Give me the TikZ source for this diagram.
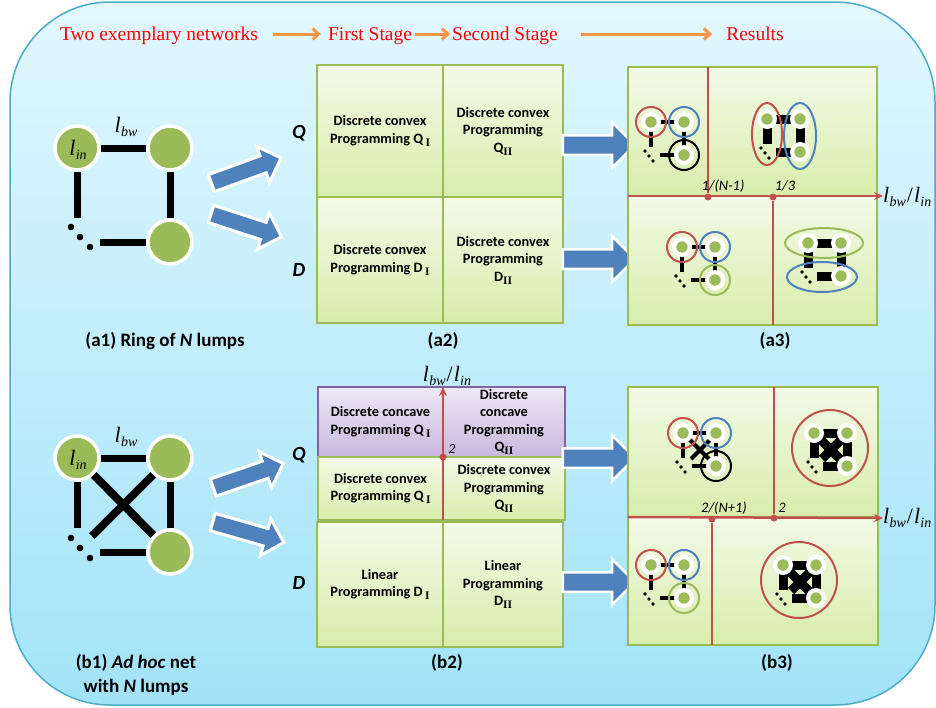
\documentclass[tikz,border=0pt]{standalone}
\usepackage{fontspec}
\usetikzlibrary{shapes.arrows,arrows.meta}
\newfontfamily\calib{Carlito}
\newfontfamily\camb{Liberation Serif}
\definecolor{bgtop}{HTML}{E1F7FD}
\definecolor{bgbot}{HTML}{A2E3F8}
\definecolor{bordc}{HTML}{4BACC6}
\definecolor{lumpgreen}{HTML}{9BBB59}
\definecolor{arrowblue}{HTML}{4F81BD}
\definecolor{axisred}{HTML}{C0504D}
\definecolor{orangec}{HTML}{F79646}
\definecolor{purplec}{HTML}{8064A2}
\definecolor{celltop}{HTML}{F3FAE8}
\definecolor{cellbot}{HTML}{D7EDAB}
\definecolor{ptop}{HTML}{EEE8F5}
\definecolor{pbot}{HTML}{C8B7DD}
\newcommand\cellfont{\calib\bfseries\fontsize{14.3}{17.5}\selectfont}
\newcommand\myI{\,\raisebox{-3pt}{\camb\bfseries\fontsize{11.5}{11.5}\selectfont I}}
\newcommand\myII{\raisebox{-3pt}{\camb\bfseries\fontsize{11.5}{11.5}\selectfont II}}
% italic l with subscript, Times-like
\newcommand\lsub[1]{{\camb\itshape\fontsize{22}{22}\selectfont l\kern0.3pt\raisebox{-4pt}{\fontsize{14}{14}\selectfont #1}}}
\newcommand\ratio{\lsub{bw}{\camb\fontsize{22}{22}\selectfont\kern1pt/\kern1pt}\lsub{in}}
% mini network: x, y (top-left lump), edge width, X flag
\newcommand\mnet[4]{%
\begin{scope}[shift={(#1,#2)}]
\draw[line width=#3pt] (0,0) -- (33,0) -- (33,33) (0,0) -- (0,25) (9,33) -- (33,33);
\ifnum#4=1 \draw[line width=#3pt] (6,6) -- (28,28) (28,6) -- (8,26);\fi
\fill (-6,29) circle (1.8) (-2,34) circle (1.8) (2,39) circle (1.8);
\foreach \q in {(0,0),(33,0),(33,33)}{\fill[white] \q circle (10); \fill[lumpgreen] \q circle (5.7);}
\end{scope}}
\begin{document}
\begin{tikzpicture}[x=1pt,y=-1pt,
  lump/.style={circle, fill=lumpgreen, draw=white, line width=3.5pt, minimum size=44pt, inner sep=0pt},
  ledge/.style={line width=7pt, black},
  barrow/.style={single arrow, fill=arrowblue, draw=white, line width=3pt, inner xsep=0pt, inner ysep=7.5pt, single arrow head extend=10pt, minimum height=74pt},
  harrow/.style={single arrow, fill=arrowblue, draw=white, line width=2.5pt, inner xsep=0pt, inner ysep=8.5pt, single arrow head extend=13pt, minimum height=72pt},
  toplab/.style={text=red, font=\camb\fontsize{19.5}{19.5}\selectfont, inner sep=0pt, text height=16pt, text depth=4pt},
  oarrow/.style={draw=orangec, line width=3pt, -{Straight Barb[length=6pt,width=11pt]}},
  cellg/.style={draw=lumpgreen, line width=1.2pt, top color=celltop, bottom color=cellbot, inner sep=0pt, align=center, font=\cellfont},
  cellp/.style={draw=purplec, line width=1.2pt, top color=ptop, bottom color=pbot, inner sep=0pt, align=center, font=\cellfont},
  sect/.style={font=\calib\bfseries\fontsize{19}{24}\selectfont, align=center, inner sep=0pt},
  qd/.style={font=\calib\bfseries\itshape\fontsize{20}{20}\selectfont, inner sep=0pt},
  axis/.style={draw=axisred, line width=2.5pt, -{Stealth[length=9pt,width=8pt]}},
  divl/.style={draw=axisred, line width=1.3pt},
  tdot/.style={circle, fill=axisred, inner sep=0pt, minimum size=7pt},
  tick/.style={font=\calib\itshape\fontsize{14.5}{14.5}\selectfont, inner sep=0pt},
  axlab/.style={inner sep=0pt},
  enc/.style={line width=2pt},
  math/.style={inner sep=0pt}
]
\fill[white] (0,0) rectangle (936,707);
\useasboundingbox (0,0) rectangle (936,707);
\path[draw=bordc, line width=1.5pt, top color=bgtop, bottom color=bgbot, rounded corners=100pt] (10,2) rectangle (935,705);

% ---- top titles
\node[toplab] (t1) at (159,34) {Two exemplary networks};
\node[toplab] (t2) at (370,34) {First Stage};
\node[toplab] (t3) at (505,34) {Second Stage};
\node[toplab] (t4) at (755,34) {Results};
\draw[oarrow, shorten <=15pt, shorten >=7pt] (t1) -- (t2);
\draw[oarrow, shorten <=3pt, shorten >=2pt] (t2) -- (t3);
\draw[oarrow, shorten <=23pt, shorten >=14pt] (t3) -- (t4);

% ---- (a1) ring network
\node[lump] (a1n1) at (77,148) {};
\node[lump] (a1n2) at (170,148) {};
\node[lump] (a1n3) at (170,242) {};
\node[math] (a1lin) at (78,150) {\lsub{in}};
\node[math] (a1lbw) at (126,127) {\lsub{bw}};
\coordinate (a1c1) at (77,218);
\coordinate (a1c2) at (100,242);
\draw[ledge] (a1n1) -- (a1n2);
\draw[ledge] (a1n2) -- (a1n3);
\draw[ledge] (a1n1) -- (a1c1);
\draw[ledge] (a1c2) -- (a1n3);
\fill (71,227) circle (3.3) (80,237) circle (3.3) (90,247) circle (3.3);
\node[barrow, rotate=20] (a1ar1) at (242,172) {};
\node[barrow, rotate=-18] (a1ar2) at (242,224) {};
\node[sect] (a1lab) at (165,341) {(a1) Ring of \textit{N} lumps};

% ---- (b1) ad hoc network
\node[lump] (b1n1) at (77,458) {};
\node[lump] (b1n2) at (170,458) {};
\node[lump] (b1n3) at (170,552) {};
\node[math] (b1lin) at (78,460) {\lsub{in}};
\node[math] (b1lbw) at (126,437) {\lsub{bw}};
\coordinate (b1c1) at (77,528);
\coordinate (b1c2) at (100,552);
\coordinate (b1c3) at (92,536);
\draw[ledge] (b1n1) -- (b1n2);
\draw[ledge] (b1n2) -- (b1n3);
\draw[ledge] (b1n1) -- (b1c1);
\draw[ledge] (b1c2) -- (b1n3);
\draw[ledge, line width=8pt] (b1n1) -- (b1n3);
\draw[ledge, line width=8pt] (b1n2) -- (b1c3);
\fill (71,538) circle (3.3) (80,548) circle (3.3) (90,558) circle (3.3);
\node[barrow, rotate=19] (b1ar1) at (244,477) {};
\node[barrow, rotate=-16] (b1ar2) at (244,531) {};
\node[sect] (b1lab) at (136,675) {(b1) \textit{Ad hoc} net\\with \textit{N} lumps};

% ---- Q / D labels
\node[qd] (qa) at (299,133) {Q};
\node[qd] (da) at (299,270) {D};
\node[qd] (qb) at (299,455) {Q};
\node[qd] (db) at (299,583) {D};

% ---- (a2) grid
\node[cellg, minimum width=126pt, minimum height=132pt] (a2q1) at (380,131) {Discrete convex\\Programming Q\myI};
\node[cellg, minimum width=120pt, minimum height=132pt] (a2q2) at (503,131) {Discrete convex\\Programming\\Q\myII};
\node[cellg, minimum width=126pt, minimum height=126pt] (a2d1) at (380,260) {Discrete convex\\Programming D\myI};
\node[cellg, minimum width=120pt, minimum height=126pt] (a2d2) at (503,260) {Discrete convex\\Programming\\D\myII};
\node[sect] (a2lab) at (443,341) {(a2)};

% ---- (b2) grid
\node[cellp, minimum width=125pt, minimum height=70pt] (b2p1) at (380.5,422) {Discrete concave\\Programming Q\myI};
\node[cellp, minimum width=122pt, minimum height=70pt] (b2p2) at (504,422) {Discrete\\concave\\Programming\\Q\myII};
\node[cellg, minimum width=125pt, minimum height=63pt] (b2q1) at (380.5,488.5) {Discrete convex\\Programming Q\myI};
\node[cellg, minimum width=122pt, minimum height=63pt] (b2q2) at (504,488.5) {Discrete convex\\Programming\\Q\myII};
\node[cellg, minimum width=126pt, minimum height=125pt] (b2d1) at (380,584.5) {Linear\\Programming D\myI};
\node[cellg, minimum width=120pt, minimum height=125pt] (b2d2) at (503,584.5) {Linear\\Programming\\D\myII};
\coordinate (b2ax0) at (443,520);
\coordinate (b2ax1) at (443,387);
\draw[axis] (b2ax0) -- (b2ax1);
\node[tdot] (b2t) at (443,457) {};
\node[tick, font=\calib\itshape\fontsize{14}{14}\selectfont] (b2tl) at (452,449) {2};
\node[axlab] (b2axl) at (447,376) {\ratio};
\node[sect] (b2lab) at (447,663) {(b2)};

% ---- horizontal block arrows
\node[harrow] (ara1) at (594,145) {};
\node[harrow] (ara2) at (594,259) {};
\node[harrow] (arb1) at (594,458) {};
\node[harrow] (arb2) at (594,582) {};

% ---- (a3) panel
\path[draw=lumpgreen, line width=1.5pt, top color=celltop, bottom color=cellbot] (628,67) rectangle (877,196);
\path[draw=lumpgreen, line width=1.5pt, top color=celltop, bottom color=cellbot] (628,196) rectangle (877,325);
\coordinate (a3v1a) at (708,67);
\coordinate (a3v2b) at (773,325);
\node[tdot] (a3t1) at (708,197) {};
\node[tdot] (a3t2) at (773,197) {};
\draw[divl] (a3v1a) -- (a3t1);
\draw[divl] (a3t2) -- (a3v2b);
\coordinate (a3ax0) at (628,196);
\coordinate (a3ax1) at (883,196);
\draw[axis] (a3ax0) -- (a3ax1);
\node[tick] (a3l1) at (723,186) {1/(N-1)};
\node[tick] (a3l2) at (785,186) {1/3};
\node[axlab, anchor=west] (a3axl) at (883,197) {\ratio};
\mnet{651}{122}{4}{0}
\draw[enc, axisred] (651,122) circle (15);
\draw[enc, arrowblue] (684,122) circle (15);
\draw[enc, black] (684,155) circle (15);
\mnet{767}{119}{9}{0}
\draw[enc, axisred] (767,134) ellipse [x radius=15, y radius=31];
\draw[enc, arrowblue] (800,136) ellipse [x radius=16, y radius=33];
\mnet{682}{247}{4}{0}
\draw[enc, axisred] (682,247) circle (15);
\draw[enc, arrowblue] (715,247) circle (15);
\draw[enc, lumpgreen] (715,280) circle (15);
\mnet{808}{243}{9}{0}
\draw[enc, lumpgreen] (824,243) ellipse [x radius=39, y radius=15];
\draw[enc, arrowblue] (822,277) ellipse [x radius=35, y radius=15];
\node[sect] (a3lab) at (775,341) {(a3)};

% ---- (b3) panel
\path[draw=lumpgreen, line width=1.5pt, top color=celltop, bottom color=cellbot] (628,387) rectangle (878,517);
\path[draw=lumpgreen, line width=1.5pt, top color=celltop, bottom color=cellbot] (628,517) rectangle (878,645);
\coordinate (b3v1a) at (774,387);
\coordinate (b3v2b) at (712,645);
\node[tdot] (b3t1) at (712,519) {};
\node[tdot] (b3t2) at (774,518) {};
\draw[divl] (b3v1a) -- (b3t2);
\draw[divl] (b3t1) -- (b3v2b);
\coordinate (b3ax0) at (628,517);
\coordinate (b3ax1) at (883,518);
\draw[axis] (b3ax0) -- (b3ax1);
\node[tick] (b3l1) at (724,508) {2/(N+1)};
\node[tick] (b3l2) at (782,508) {2};
\node[axlab, anchor=west] (b3axl) at (883,518) {\ratio};
\mnet{683}{433}{4}{1}
\draw[enc, axisred] (683,433) circle (15);
\draw[enc, arrowblue] (716,433) circle (15);
\draw[enc, black] (716,466) circle (15);
\mnet{814}{433}{9}{1}
\draw[enc, axisred] (830,448) circle (38);
\mnet{651}{565}{4}{0}
\draw[enc, axisred] (651,565) circle (15);
\draw[enc, arrowblue] (684,565) circle (15);
\draw[enc, lumpgreen] (684,598) circle (15);
\mnet{783}{565}{9}{1}
\draw[enc, axisred] (799,580) circle (38);
\node[sect] (b3lab) at (777,663) {(b3)};
\end{tikzpicture}
\end{document}
